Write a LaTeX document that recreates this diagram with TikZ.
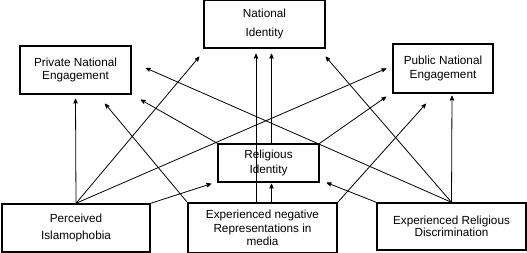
\documentclass[tikz,border=0pt]{standalone}
\usepackage{fontspec}
\setmainfont{Liberation Sans}
\usepackage{tikz}
\usetikzlibrary{positioning}
\usetikzlibrary{shapes,arrows,calc}

\begin{document}
\begin{tikzpicture}[x=1pt,y=-1pt,->,>=stealth',line width=0.8pt,
  box/.style={rectangle,draw,line width=1.4pt,align=center,inner sep=1pt,
    font=\fontsize{11.75}{13.3}\selectfont}]
  \useasboundingbox (0,0) rectangle (527,253);
  \node[box,minimum width=121pt,minimum height=48pt,
    font=\fontsize{11.75}{19}\selectfont] (ni) at (264.5,24) {National\\Identity};
  \node[box,minimum width=111pt,minimum height=48pt] (pne) at (75.5,70) {Private National\\Engagement};
  \node[box,minimum width=100pt,minimum height=49pt] (pub) at (443,68.5) {Public National\\Engagement};
  \node[box,minimum width=101pt,minimum height=38pt,
    font=\fontsize{11.75}{15}\selectfont] (ri) at (268.5,163) {Religious\\Identity};
  \node[box,minimum width=148pt,minimum height=48pt,
    font=\fontsize{11.75}{17.7}\selectfont] (pi) at (76,228) {Perceived\\Islamophobia};
  \node[box,minimum width=149pt,minimum height=50pt] (rep) at (262.5,228) {Experienced negative\\Representations in\\media};
  \node[box,minimum width=149pt,minimum height=47pt,
    font=\fontsize{11.75}{12.5}\selectfont] (rd) at (451.5,226.5) {Experienced Religious\\Discrimination};
  % Perceived Islamophobia
  \draw (pi.north) -- ($(pne.south)+(0,4)$);
  \draw (pi.north) -- ($(ni.south west)+(-4,8)$);
  \draw (pi.north) -- ($(pub.west)+(-6,0)$);
  \draw (pi.north east) -- ($(ri.south west)+(-6,1)$);
  % negative representations
  \draw (rep.north west) -- ($(pne.south)+(29.5,9)$);
  \draw ($(rep.north)+(-6.5,0)$) -- ($(ni.south)+(-8.5,5)$);
  \draw (rep.north east) -- ($(pub.south)+(-17,10)$);
  \draw ($(rep.north)+(9,0)$) -- ($(ri.south)+(3,1)$);
  % religious identity
  \draw (ri.north west) -- ($(pne.south east)+(9,5)$);
  \draw ($(ri.north)+(3,0)$) -- ($(ni.south)+(7,5)$);
  \draw (ri.north east) -- ($(pub.south west)+(-6,3)$);
  % religious discrimination
  \draw (rd.north) -- ($(pub.south)+(9,2)$);
  \draw (rd.north) -- ($(ni.south east)+(0,8)$);
  \draw (rd.north) -- ($(pne.east)+(14,-2)$);
  \draw (rd.north west) -- ($(ri.south east)+(7,0)$);
\end{tikzpicture}
\end{document}
